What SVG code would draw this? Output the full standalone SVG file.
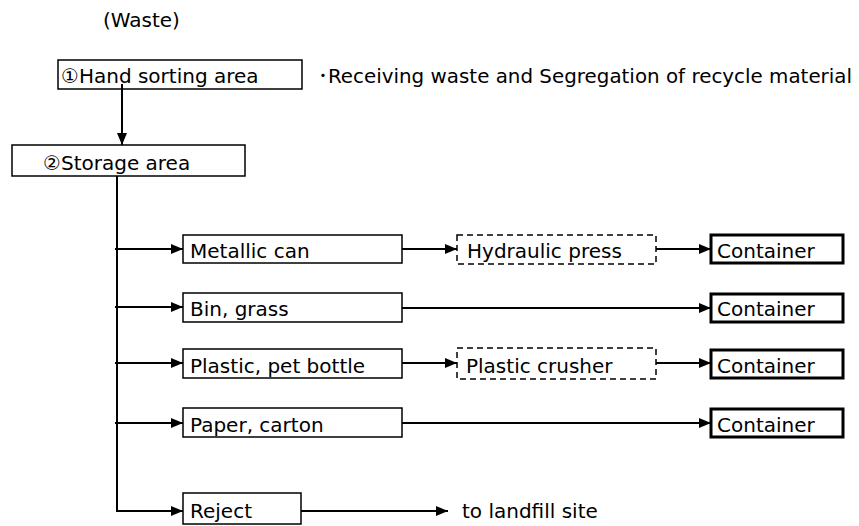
<svg xmlns="http://www.w3.org/2000/svg" width="859" height="526" viewBox="0 0 859 526">
<style>
text{font-family:"DejaVu Sans","Noto Sans CJK JP",sans-serif;font-size:20px;fill:#000}
.box{fill:#fff;stroke:#000;stroke-width:1.5}
.dash{fill:#fff;stroke:#000;stroke-width:1.5;stroke-dasharray:6 4}
.cont{fill:#fff;stroke:#000;stroke-width:3}
.ln{fill:none;stroke:#000;stroke-width:2}
.ar{fill:none;stroke:#000;stroke-width:2;marker-end:url(#ah)}
</style>
<defs>
<marker id="ah" markerUnits="userSpaceOnUse" markerWidth="12" markerHeight="10" refX="12" refY="5" orient="auto">
<path d="M0,0 L12,5 L0,10 Z" fill="#000"/>
</marker>
</defs>
<rect width="859" height="526" fill="#fff"/>
<text x="103" y="27">(Waste)</text>
<text x="318" y="83" textLength="534" lengthAdjust="spacingAndGlyphs">･Receiving waste and Segregation of recycle material</text>
<text x="462" y="518">to landfill site</text>
<g id="n-hand"><rect class="box" x="58" y="60" width="244" height="29"/><text x="61" y="83">①Hand sorting area</text></g>
<g id="n-storage"><rect class="box" x="12" y="145" width="233" height="31"/><text x="43" y="170">②Storage area</text></g>
<g id="connectors">
<line class="ar" x1="122" y1="84" x2="122" y2="145"/>
<polyline class="ln" points="117,176 117,511"/>
<line class="ar" x1="115" y1="249" x2="183" y2="249"/>
<line class="ar" x1="115" y1="307" x2="183" y2="307"/>
<line class="ar" x1="115" y1="363" x2="183" y2="363"/>
<line class="ar" x1="115" y1="423" x2="183" y2="423"/>
<line class="ar" x1="116" y1="511" x2="183" y2="511"/>
<line class="ar" x1="402" y1="249" x2="457" y2="249"/>
<line class="ar" x1="656" y1="249" x2="711" y2="249"/>
<line class="ar" x1="402" y1="308" x2="711" y2="308"/>
<line class="ar" x1="402" y1="363" x2="457" y2="363"/>
<line class="ar" x1="656" y1="363" x2="711" y2="363"/>
<line class="ar" x1="402" y1="423" x2="711" y2="423"/>
<line class="ar" x1="301" y1="511" x2="448" y2="511"/>
</g>
<g id="n-metal"><rect class="box" x="183" y="235" width="219" height="28"/><text x="190" y="258">Metallic can</text></g>
<g id="n-bin"><rect class="box" x="183" y="293" width="219" height="29"/><text x="190" y="316">Bin, grass</text></g>
<g id="n-plastic"><rect class="box" x="183" y="349" width="219" height="29"/><text x="190" y="373">Plastic, pet bottle</text></g>
<g id="n-paper"><rect class="box" x="183" y="408" width="219" height="29"/><text x="190" y="432">Paper, carton</text></g>
<g id="n-reject"><rect class="box" x="183" y="493" width="118" height="31"/><text x="190" y="518">Reject</text></g>
<g id="n-press"><rect class="dash" x="457" y="235" width="199" height="29"/><text x="467" y="258">Hydraulic press</text></g>
<g id="n-crusher"><rect class="dash" x="457" y="348" width="199" height="31"/><text x="466" y="373">Plastic crusher</text></g>
<g id="n-c1"><rect class="cont" x="711" y="235" width="132" height="28"/><text x="717" y="258">Container</text></g>
<g id="n-c2"><rect class="cont" x="711" y="294" width="132" height="28"/><text x="717" y="316">Container</text></g>
<g id="n-c3"><rect class="cont" x="711" y="350" width="132" height="28"/><text x="717" y="373">Container</text></g>
<g id="n-c4"><rect class="cont" x="711" y="409" width="132" height="28"/><text x="717" y="432">Container</text></g>
</svg>
